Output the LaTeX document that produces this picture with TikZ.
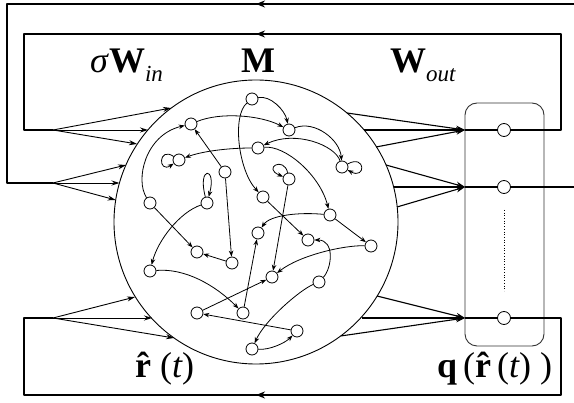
\documentclass[tikz,border=0pt]{standalone}
\usepackage{fontspec}
\setmainfont{Liberation Serif}
\usetikzlibrary{arrows.meta}
\newcommand\mysub[1]{\raisebox{-0.25em}{\fontsize{23}{25}\selectfont\itshape #1}}
\newcommand\myrhat{{\bfseries\setbox0\hbox{r}\rlap{r}\hbox to\wd0{\hss\char"02C6\hss}}}
\begin{document}
\begin{tikzpicture}[x=1pt,y=-1pt,line join=round,
  nd/.style={circle,draw,line width=0.8pt,minimum size=12pt,inner sep=0pt,fill=white},
  ond/.style={circle,draw,line width=0.8pt,minimum size=13pt,inner sep=0pt,fill=white},
  ed/.style={line width=0.8pt,-{Stealth[length=6pt,width=4.5pt]}},
  outer/.style={line width=1.6pt},
  fanar/.style={line width=0.9pt,-{Stealth[length=8pt,width=5pt]}},
  outar/.style={line width=1.1pt,-{Stealth[length=9pt,width=6pt]}},
  lbl/.style={inner sep=0pt,font=\fontsize{36}{42}\selectfont}]
\useasboundingbox (0,0) rectangle (574,403);

% reservoir
\node[circle,draw,minimum size=284pt,inner sep=0pt,line width=0.9pt] (R) at (256,222) {};

% output box
\draw[black!80,line width=0.9pt,rounded corners=12pt] (465,103) rectangle (544,346);
\draw[line width=0.7pt,dotted] (504,210) -- (504,291);

% output nodes
\node[ond] (o1) at (504,130) {};
\node[ond] (o2) at (504,187) {};
\node[ond] (o3) at (504,318) {};
\coordinate (b1) at (465,130);
\coordinate (b2) at (465,187);
\coordinate (b3) at (465,318);

% fan points
\coordinate (f1) at (53,130);
\coordinate (f2) at (53,183);
\coordinate (f3) at (53,318);

% outer loops
\draw[outer] (b1) -- (o1);
\draw[outer] (b2) -- (o2);
\draw[outer] (b3) -- (o3);
\draw[outer] (o1) -- (561,130) -- (561,34) -- (24,34) -- (24,130) -- (f1);
\draw[outer,-{Stealth[length=9pt,width=7pt]}] (561,34) -- (256,34);
\draw[outer] (o2) -- (574,187);
\draw[outer] (574,4) -- (7,4) -- (7,183) -- (f2);
\draw[outer,-{Stealth[length=9pt,width=7pt]}] (574,4) -- (256,4);
\draw[outer] (o3) -- (561,318) -- (561,395) -- (24,395) -- (24,318) -- (f3);
\draw[outer,-{Stealth[length=9pt,width=7pt]}] (561,395) -- (256,395);

% input fans
\coordinate (i1a) at (171,108); \coordinate (i1b) at (148,130); \coordinate (i1c) at (137,144);
\coordinate (i2a) at (126,165); \coordinate (i2b) at (119.5,183); \coordinate (i2c) at (115.7,200);
\coordinate (i3a) at (135,297); \coordinate (i3b) at (152,318); \coordinate (i3c) at (174,338);
\foreach \t in {i1a,i1b,i1c} \draw[fanar] (f1) -- (\t);
\foreach \t in {i2a,i2b,i2c} \draw[fanar] (f2) -- (\t);
\foreach \t in {i3a,i3b,i3c} \draw[fanar] (f3) -- (\t);

% output fans
\coordinate (p1a) at (347,113); \coordinate (p1b) at (364,130); \coordinate (p1c) at (376,147);
\coordinate (p2a) at (386,165); \coordinate (p2b) at (393.6,187); \coordinate (p2c) at (397,207);
\coordinate (p3a) at (377,296); \coordinate (p3b) at (361.5,318); \coordinate (p3c) at (340.6,336);
\foreach \s in {p1a,p1b,p1c} \draw[outar] (\s) -- (b1);
\foreach \s in {p2a,p2b,p2c} \draw[outar] (\s) -- (b2);
\foreach \s in {p3a,p3b,p3c} \draw[outar] (\s) -- (b3);

% internal nodes
\node[nd] (n1) at (252,99) {};
\node[nd] (n2) at (289,130) {};
\node[nd] (n3) at (191,124) {};
\node[nd] (n4) at (258,148) {};
\node[nd] (n5) at (179,160) {};
\node[nd] (n6) at (225,172) {};
\node[nd] (n7) at (289,179) {};
\node[nd] (n8) at (150,203) {};
\node[nd] (n9) at (207,203) {};
\node[nd] (n10) at (263,197) {};
\node[nd] (n11) at (258,233) {};
\node[nd] (n12) at (197,252) {};
\node[nd] (n13) at (342,167) {};
\node[nd] (n14) at (330,215) {};
\node[nd] (n16) at (308,240) {};
\node[nd] (n17) at (371,246) {};
\node[nd] (n18) at (232,263) {};
\node[nd] (n19) at (272,277) {};
\node[nd] (n20) at (319,282) {};
\node[nd] (n21) at (243,313) {};
\node[nd] (n22) at (297,331) {};
\node[nd] (n23) at (150,271) {};
\node[nd] (n26) at (197,313) {};
\node[nd] (n29) at (252,349) {};

% internal edges
\draw[ed] (n1) .. controls (270,95) and (285,110) .. (n2);
\draw[ed] (n1) .. controls (232,115) and (238,170) .. (n10);
\draw[ed] (n3) .. controls (220,112) and (260,115) .. (n2);
\draw[ed] (n8) .. controls (135,180) and (145,135) .. (n3);
\draw[ed] (n6) -- (n3);
\draw[ed] (n4) .. controls (225,148) and (200,152) .. (n5);
\draw[ed] (n2) .. controls (315,120) and (340,140) .. (n13);
\draw[ed] (n13) .. controls (335,145) and (295,130) .. (n4);
\draw[ed] (n4) .. controls (285,145) and (320,175) .. (n14);
\draw[ed] (n6) -- (n18);
\draw[ed] (n7) -- (n19);
\draw[ed] (n10) -- (n16);
\draw[ed] (n14) .. controls (300,212) and (270,215) .. (n11);
\draw[ed] (n14) -- (n17);
\draw[ed] (n17) .. controls (345,245) and (300,255) .. (n19);
\draw[ed] (n20) .. controls (332,268) and (335,240) .. (n16);
\draw[ed] (n20) .. controls (300,290) and (265,320) .. (n29);
\draw[ed] (n29) .. controls (270,350) and (285,343) .. (n22);
\draw[ed] (n22) -- (n26);
\draw[ed] (n26) -- (n19);
\draw[ed] (n21) -- (n11);
\draw[ed] (n23) .. controls (185,268) and (215,285) .. (n21);
\draw[ed] (n9) .. controls (180,212) and (158,240) .. (n23);
\draw[ed] (n8) -- (n12);
\draw[ed] (n18) -- (n12);
% self loops
\draw[ed] (n5) .. controls (158,146) and (158,174) .. (n5);
\draw[ed] (n9) .. controls (197,166) and (217,166) .. (n9);
\draw[ed] (n7) .. controls (284,156) and (262,168) .. (n7);
\draw[ed] (n13) .. controls (366,154) and (366,180) .. (n13);

% labels
\node[lbl,anchor=base west] (lsw) at (90,73) {{\itshape σ}\textbf{W}\mysub{in}};
\node[lbl,anchor=base] (lm) at (258,73) {\textbf{M}};
\node[lbl,anchor=base west] (lwo) at (390,73) {\textbf{W}\mysub{out}};
\node[lbl,anchor=base west] (lr) at (135,378) {\myrhat\ ({\itshape t})};
\node[lbl,anchor=base west] (lq) at (437,378) {\textbf{q}\,(\myrhat\,({\itshape t})\ )};
\end{tikzpicture}
\end{document}
